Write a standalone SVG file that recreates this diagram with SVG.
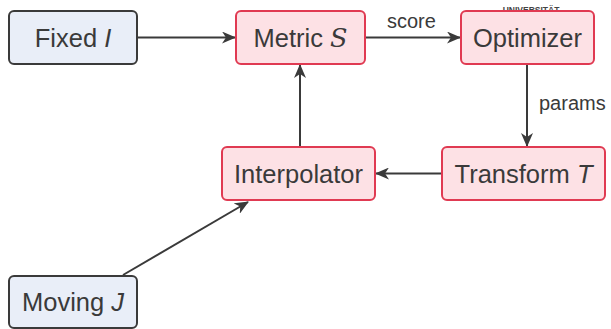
<svg xmlns="http://www.w3.org/2000/svg" width="611" height="329" viewBox="0 0 611 329">
<defs>
<style>
.blue{fill:#e9eef8;stroke:#3a3a3a;stroke-width:2}
.red{fill:#fde1e5;stroke:#e03a52;stroke-width:2}
.lbl{font-family:"Liberation Sans",Arial,sans-serif;font-size:25.5px;fill:#3a3a3a;text-anchor:middle}
.edge{font-family:"Liberation Sans",Arial,sans-serif;font-size:20px;fill:#3a3a3a}
.conn{stroke:#3a3a3a;stroke-width:2;fill:none;marker-end:url(#ah)}
</style>
<marker id="ah" viewBox="0 0 14 12" refX="13" refY="6" markerWidth="14" markerHeight="12" markerUnits="userSpaceOnUse" orient="auto">
<path d="M0,0 L14,6 L0,12 L4,6 Z" fill="#3a3a3a"/>
</marker>
</defs>
<rect width="611" height="329" fill="#ffffff"/>
<text x="531" y="13" font-family="Liberation Sans,Arial,sans-serif" font-size="8.5" font-weight="bold" fill="#444" text-anchor="middle">UNIVERSITÄT</text>
<g id="connectors">
<line class="conn" x1="137" y1="37.5" x2="235" y2="37.5"/>
<line class="conn" x1="365" y1="37.5" x2="460" y2="37.5"/>
<text class="edge" x="387" y="28">score</text>
<line class="conn" x1="527" y1="64" x2="527" y2="146"/>
<text class="edge" x="539" y="110">params</text>
<line class="conn" x1="442" y1="173.5" x2="376" y2="173.5"/>
<line class="conn" x1="300" y1="147" x2="300" y2="65"/>
<line class="conn" x1="123" y1="275" x2="248" y2="202"/>
</g>
<g id="fixed">
<rect class="blue" x="9" y="11" width="128" height="53" rx="5"/>
<text class="lbl" x="73" y="47">Fixed <tspan font-style="italic">I</tspan></text>
</g>
<g id="metric">
<rect class="red" x="236" y="11" width="129" height="53" rx="5"/>
<text class="lbl" x="300.5" y="47">Metric <tspan font-family="'DejaVu Serif',serif" font-style="italic">S</tspan></text>
</g>
<g id="optimizer">
<rect class="red" x="461" y="11" width="133" height="53" rx="5"/>
<text class="lbl" x="527.5" y="47">Optimizer</text>
</g>
<g id="transform">
<rect class="red" x="442" y="147" width="163" height="53" rx="5"/>
<text class="lbl" x="523.5" y="183">Transform <tspan font-style="italic">T</tspan></text>
</g>
<g id="interpolator">
<rect class="red" x="222" y="147" width="153" height="53" rx="5"/>
<text class="lbl" x="298.5" y="183">Interpolator</text>
</g>
<g id="moving">
<rect class="blue" x="9" y="276" width="128" height="52" rx="5"/>
<text class="lbl" x="73" y="311">Moving <tspan font-style="italic">J</tspan></text>
</g>
</svg>
